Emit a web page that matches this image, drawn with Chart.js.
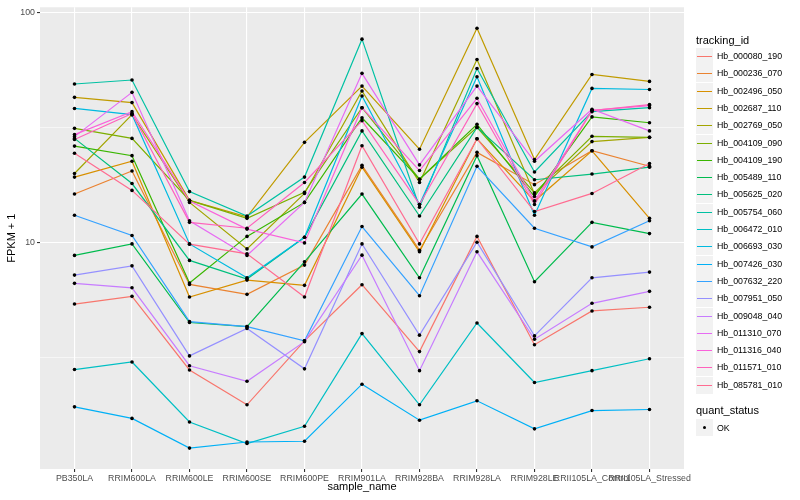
<!DOCTYPE html>
<html>
<head>
<meta charset="utf-8">
<script src="https://cdn.jsdelivr.net/npm/chart.js@4/dist/chart.umd.min.js"></script>
<style>
  body { margin: 0; background: #fff; font-family: "Liberation Sans", Arial, sans-serif; }
  #wrap { position: relative; width: 800px; height: 500px; }
  #chart { position: absolute; left: 0; top: 0; }
  .ttl { position: absolute; font-size: 11px; color: #000; line-height: 13px; }
  .key { position: absolute; width: 17px; height: 17px; background: #F2F2F2; }
  .key i { position: absolute; left: 1px; width: 15px; top: 7.5px; height: 1.8px; }
  .key b { position: absolute; left: 7px; top: 7px; width: 3.4px; height: 3.4px; border-radius: 50%; background: #000; }
  .lab { position: absolute; font-size: 8.8px; color: #000; line-height: 10px; white-space: nowrap; }
</style>
</head>
<body>
<div id="wrap">
  <canvas id="chart" width="800" height="500"></canvas>
  <div id="legend"></div>
</div>
<script>
// sample columns on the x axis
const samples = ['PB350LA', 'RRIM600LA', 'RRIM600LE', 'RRIM600SE', 'RRIM600PE', 'RRIM901LA',
  'RRIM928BA', 'RRIM928LA', 'RRIM928LE', 'RRII105LA_Control', 'RRII105LA_Stressed'];

const trackingIds = ['Hb_000080_190', 'Hb_000236_070', 'Hb_002496_050', 'Hb_002687_110', 'Hb_002769_050',
  'Hb_004109_090', 'Hb_004109_190', 'Hb_005489_110', 'Hb_005625_020', 'Hb_005754_060',
  'Hb_006472_010', 'Hb_006693_030', 'Hb_007426_030', 'Hb_007632_220', 'Hb_007951_050',
  'Hb_009048_040', 'Hb_011310_070', 'Hb_011316_040', 'Hb_011571_010', 'Hb_085781_010'];

const colors = ['#F8766D', '#EA8331', '#D89000', '#C09B00', '#A3A500', '#7CAE00', '#39B600', '#00BB4E',
  '#00BF7D', '#00C1A3', '#00BFC4', '#00BAE0', '#00B0F6', '#35A2FF', '#9590FF', '#C77CFF',
  '#E76BF3', '#FA62DB', '#FF62BC', '#FF6C91'];

// FPKM + 1, one array per gene, in sample order
const hb000080_190 = [5.38, 5.81, 2.78, 1.96, 3.72, 6.53, 3.34, 10.6, 3.58, 5.02, 5.21];
const hb000236_070 = [16.2, 20.4, 6.55, 5.93, 7.95, 21.6, 9.23, 24.6, 17.8, 25.0, 21.4];
const hb002496_050 = [19.2, 22.5, 5.77, 6.84, 6.49, 21.2, 9.08, 28.2, 15.1, 25.0, 12.7];
const hb002687_110 = [42.7, 40.5, 15.2, 12.9, 27.2, 47.8, 25.4, 85.4, 22.9, 53.7, 50.1];
const hb002769_050 = [19.9, 35.9, 14.9, 9.35, 16.3, 45.5, 18.2, 62.4, 16.2, 27.4, 28.6];
const hb004109_090 = [31.3, 28.3, 15.2, 12.7, 16.5, 38.5, 18.8, 31.6, 16.4, 28.9, 28.6];
const hb004109_190 = [26.2, 23.8, 6.64, 10.6, 14.9, 34.8, 18.8, 32.6, 15.8, 35.1, 33.1];
const hb005489_110 = [8.76, 9.83, 4.47, 4.29, 8.21, 16.2, 7.00, 23.8, 6.73, 12.2, 10.9];
const hb005625_020 = [28.3, 18.0, 8.33, 6.91, 10.5, 30.5, 13.0, 31.6, 18.7, 19.8, 21.2];
const hb005754_060 = [48.8, 50.8, 16.6, 13.0, 19.2, 76.5, 14.2, 57.0, 20.2, 37.0, 38.5];
const hb006472_010 = [2.79, 3.01, 1.65, 1.33, 1.58, 4.00, 1.96, 4.45, 2.45, 2.76, 3.11];
const hb006693_030 = [38.2, 35.9, 9.83, 7.00, 10.5, 43.3, 14.6, 52.5, 13.1, 46.7, 46.2];
const hb007426_030 = [1.92, 1.71, 1.27, 1.35, 1.36, 2.41, 1.68, 2.04, 1.54, 1.85, 1.87];
const hb007632_220 = [13.1, 10.7, 4.51, 4.29, 3.72, 11.7, 5.85, 21.4, 11.5, 9.54, 12.4];
const hb007951_050 = [7.19, 7.89, 3.20, 4.21, 2.81, 9.83, 3.94, 10.0, 3.91, 7.00, 7.41];
const hb009048_040 = [6.62, 6.33, 2.90, 2.48, 3.69, 8.78, 2.76, 9.08, 3.78, 5.42, 6.11];
const hb011310_070 = [28.8, 44.9, 12.4, 8.76, 14.9, 54.3, 21.7, 47.8, 22.5, 37.9, 30.5];
const hb011316_040 = [29.4, 37.0, 15.1, 11.4, 9.93, 38.5, 20.5, 42.3, 15.1, 37.5, 39.3];
const hb011571_010 = [28.0, 36.3, 12.2, 11.5, 18.2, 33.8, 14.6, 40.1, 14.6, 37.4, 39.7];
const hb085781_010 = [24.4, 16.8, 9.80, 8.90, 5.77, 26.3, 9.83, 28.2, 13.6, 16.3, 22.0];

const seriesValues = [hb000080_190, hb000236_070, hb002496_050, hb002687_110, hb002769_050,
  hb004109_090, hb004109_190, hb005489_110, hb005625_020, hb005754_060,
  hb006472_010, hb006693_030, hb007426_030, hb007632_220, hb007951_050,
  hb009048_040, hb011310_070, hb011316_040, hb011571_010, hb085781_010];

// log axis: labelled breaks and minor grid breaks
const yMajor = [10, 100];
const yMinor = [3.1623, 31.623];

const FONT = '"Liberation Sans", Arial, sans-serif';

const panelBg = {
  id: 'panelBg',
  beforeDraw(chart) {
    const { ctx, chartArea: a } = chart;
    ctx.save();
    ctx.fillStyle = '#EBEBEB';
    ctx.fillRect(a.left, a.top, a.right - a.left, a.bottom - a.top);
    ctx.restore();
  }
};

const datasets = trackingIds.map((id, i) => ({
  label: id,
  data: seriesValues[i].map((v, j) => ({ x: j, y: v })),
  borderColor: colors[i],
  borderWidth: 1.2,
  pointRadius: 0,
  tension: 0,
  fill: false,
  order: trackingIds.length - i
}));

datasets.push({
  label: 'OK',
  data: seriesValues.flatMap(vals => vals.map((v, j) => ({ x: j, y: v }))),
  showLine: false,
  pointRadius: 1.8,
  pointBorderWidth: 0,
  pointBackgroundColor: '#000',
  pointStyle: 'circle',
  order: 0
});

new Chart(document.getElementById('chart'), {
  type: 'line',
  data: { datasets: datasets },
  plugins: [panelBg],
  options: {
    responsive: false,
    animation: false,
    events: [],
    layout: { padding: { top: 5, right: 116, left: 0, bottom: 0 } },
    plugins: { legend: { display: false }, tooltip: { enabled: false } },
    scales: {
      x: {
        type: 'linear',
        min: -0.6,
        max: 10.6,
        afterBuildTicks: s => { s.ticks = samples.map((_, i) => ({ value: i })); },
        afterFit: s => { s.height = 31; },
        border: { display: false },
        grid: { color: '#FFFFFF', lineWidth: 1.1, tickColor: '#333333', tickLength: 3 },
        ticks: {
          autoSkip: false, maxRotation: 0, minRotation: 0, padding: 1,
          color: '#4D4D4D', font: { size: 8.8, family: FONT },
          callback: v => samples[Math.round(v)]
        },
        title: { display: true, text: 'sample_name', color: '#000', font: { size: 11, family: FONT },
          padding: { top: 0, bottom: 6 } }
      },
      y: {
        type: 'logarithmic',
        min: 1.03,
        max: 105.3,
        afterBuildTicks: s => {
          s.ticks = yMinor.concat(yMajor).sort((a, b) => a - b).map(v => ({ value: v }));
        },
        afterFit: s => { s.width = 40; },
        border: { display: false },
        grid: {
          color: '#FFFFFF',
          lineWidth: c => (c.tick && yMajor.includes(c.tick.value) ? 1.1 : 0.55),
          tickColor: c => (c.tick && yMajor.includes(c.tick.value) ? '#333333' : 'rgba(0,0,0,0)'),
          tickLength: 3
        },
        ticks: {
          padding: 2, color: '#4D4D4D', font: { size: 8.8, family: FONT },
          callback: v => (yMajor.includes(v) ? String(v) : '')
        },
        title: { display: true, text: 'FPKM + 1', color: '#000', font: { size: 11, family: FONT },
          padding: { top: 5, bottom: 0 } }
      }
    }
  }
});

// legend on the right, built from the same arrays
const legend = document.getElementById('legend');
let html = '<div class="ttl" style="left:696px;top:34px">tracking_id</div>';
trackingIds.forEach((id, i) => {
  const y = Math.round(48 + i * 17.3);
  html += '<div class="key" style="left:696px;top:' + y + 'px"><i style="background:' + colors[i] + '"></i></div>';
  html += '<div class="lab" style="left:717px;top:' + (y + 3) + 'px">' + id + '</div>';
});
html += '<div class="ttl" style="left:696px;top:404px">quant_status</div>';
html += '<div class="key" style="left:696px;top:419px"><b></b></div>';
html += '<div class="lab" style="left:717px;top:423px">OK</div>';
legend.innerHTML = html;
</script>
</body>
</html>
